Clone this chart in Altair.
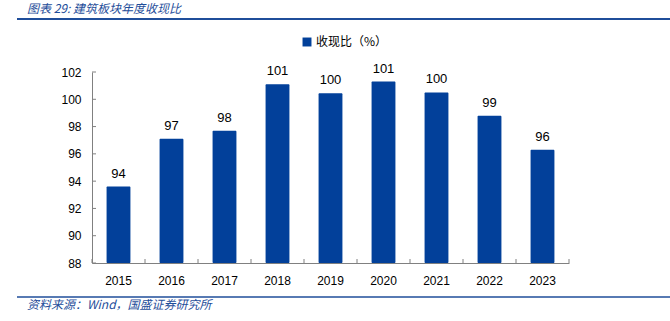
import altair as alt
import pandas as pd

years = ["2015", "2016", "2017", "2018", "2019", "2020", "2021", "2022", "2023"]
values = [93.6, 97.1, 97.7, 101.1, 100.45, 101.3, 100.5, 98.8, 96.3]
labels = ["94", "97", "98", "101", "100", "101", "100", "99", "96"]
y_ticks = [88, 90, 92, 94, 96, 98, 100, 102]
series_name = "收现比（%）"
title_text = "图表 29:  建筑板块年度收现比"
source_text = "资料来源：Wind，国盛证券研究所"

BAR = "#02409A"
NAVY = "#1F4E9A"
FONT = "Liberation Sans"
CJK = "Noto Sans CJK SC"

W, H = 477, 191
PL, PT = 92, 72

df = pd.DataFrame({"year": years, "value": values, "label": labels, "series": series_name})
ticks_df = pd.DataFrame({"v": y_ticks})

xscale = alt.Scale(paddingInner=0, paddingOuter=0)
yscale = alt.Scale(domain=[88, 102], nice=False, zero=False)
yaxis = alt.Axis(values=y_ticks, labelOverlap=False, labelPadding=11)
xaxis = alt.Axis(labelAngle=0, labelPadding=12)

bars = alt.Chart(df).mark_bar(width=alt.RelativeBandSize(0.45), cornerRadius=1).encode(
    x=alt.X("year:N", scale=xscale, sort=years, title=None, axis=xaxis),
    y=alt.Y("value:Q", scale=yscale, title=None, axis=yaxis),
    y2=alt.datum(88),
    color=alt.Color("series:N", scale=alt.Scale(range=[BAR]),
                    legend=alt.Legend(title=None, orient="none", legendX=209, legendY=-36,
                                      symbolType="square", symbolSize=80,
                                      symbolStrokeWidth=0, labelFont=CJK,
                                      labelFontSize=12, labelColor="#000000",
                                      labelOffset=3)),
)

text = alt.Chart(df).mark_text(baseline="bottom", dy=-6, font=FONT, fontSize=13,
                               color="#000000").encode(
    x=alt.X("year:N", sort=years, title=None, axis=xaxis),
    y=alt.Y("value:Q", title=None, axis=yaxis),
    text="label:N",
)

xt = alt.Chart(df).mark_rule(color="#808080").encode(
    x=alt.X("year:N", sort=years, bandPosition=0, title=None, axis=xaxis),
    y=alt.value(H - 4), y2=alt.value(H),
)
xt_end = alt.Chart(df.head(1)).mark_rule(color="#808080").encode(
    x=alt.value(W), y=alt.value(H - 4), y2=alt.value(H),
)
yt = alt.Chart(ticks_df).mark_rule(color="#808080").encode(
    y=alt.Y("v:Q", title=None, axis=yaxis), x=alt.value(0), x2=alt.value(4),
)

head_df = pd.DataFrame({"t": [title_text]})
src_df = pd.DataFrame({"t": [source_text]})

title = alt.Chart(head_df).mark_text(align="left", baseline="middle", font=CJK,
                                     fontSize=12, fontStyle="italic", color=NAVY).encode(
    x=alt.value(27 - PL), y=alt.value(9 - PT), text="t:N")
source = alt.Chart(src_df).mark_text(align="left", baseline="middle", font=CJK,
                                     fontSize=12, fontStyle="italic", color=NAVY).encode(
    x=alt.value(27 - PL), y=alt.value(305 - PT), text="t:N")
line_top = alt.Chart(head_df).mark_rule(color=NAVY, strokeWidth=2).encode(
    x=alt.value(17 - PL), x2=alt.value(670 - PL), y=alt.value(19 - PT))
line_bot = alt.Chart(head_df).mark_rule(color=NAVY, strokeWidth=1.5).encode(
    x=alt.value(17 - PL), x2=alt.value(670 - PL), y=alt.value(297 - PT))

chart = alt.layer(bars, text, xt, xt_end, yt, title, source, line_top, line_bot).properties(
    width=W, height=H,
    autosize=alt.AutoSizeParams(type="none"),
    padding={"left": PL, "top": PT, "right": 670 - PL - W, "bottom": 321 - PT - H},
    background="white",
).configure_view(stroke=None).configure_axis(
    ticks=False, tickSize=0, grid=False, domainColor="#808080",
    labelFont=FONT, labelFontSize=12, labelColor="#000000",
    labelOverlap=False, labelBound=False, labelFlush=False,
)

chart.save("out.html", embed_options={"renderer": "svg", "actions": False})
